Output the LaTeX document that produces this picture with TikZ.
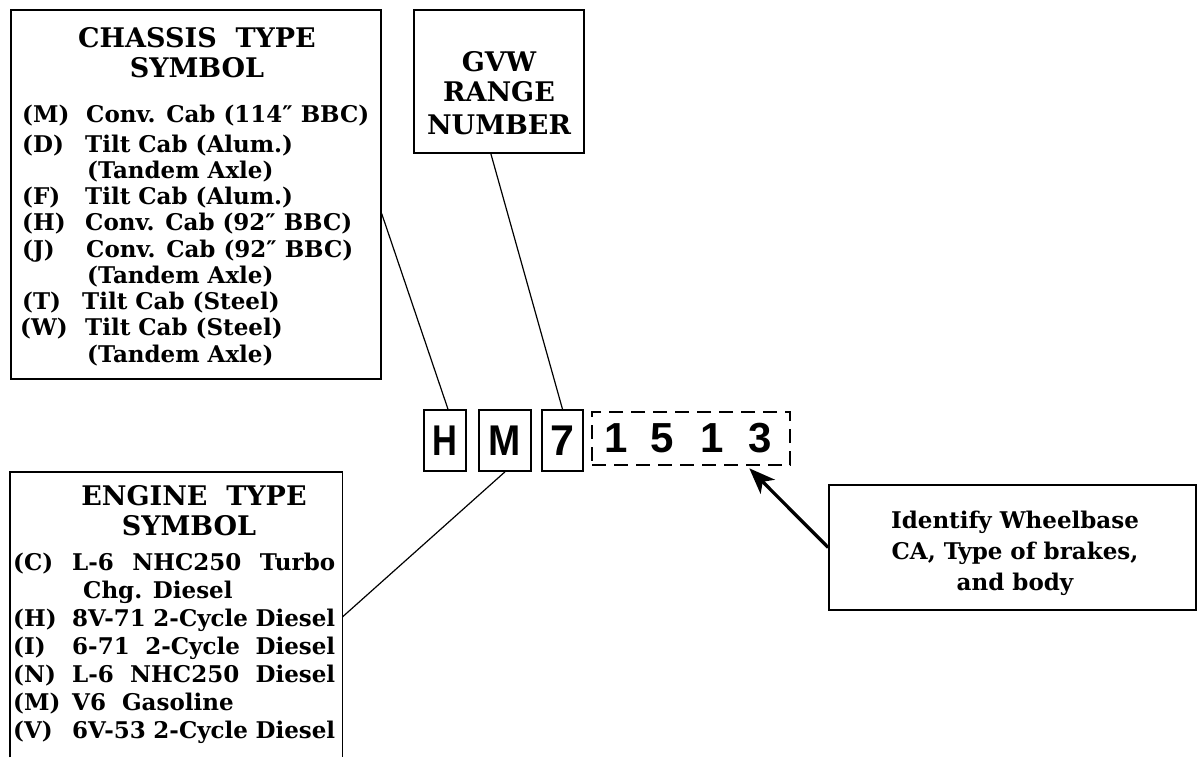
\documentclass[tikz,border=0pt]{standalone}
\usepackage{fontspec}
\usepackage{graphicx}
\setmainfont{DejaVu Serif}
\newfontfamily\codefont{Liberation Sans}
\usetikzlibrary{arrows.meta,calc}
\begin{document}
\begin{tikzpicture}[x=1pt,y=-1pt,
  boxline/.style={line width=1.7pt},
  box/.style={draw, boxline, inner sep=0pt},
  ttl/.style={font=\fontsize{27}{30}\selectfont\bfseries, anchor=base, inner sep=0pt},
  lbl/.style={font=\fontsize{23}{26}\selectfont\bfseries, anchor=base west, inner sep=0pt},
  codebox/.style={draw, line width=1.6pt, inner sep=0pt, minimum height=61pt,
    font=\codefont\bfseries\fontsize{43}{43}\selectfont},
  digit/.style={inner sep=0pt, font=\codefont\bfseries\fontsize{42}{42}\selectfont},
  conn/.style={line width=1.2pt},
  pointer/.style={line width=3.3pt, -{Stealth[length=26pt,width=20pt,inset=7pt]}}
]
\useasboundingbox (0,0) rectangle (1198,757);

% ---------- chassis box ----------
\node[box, anchor=north west, minimum width=370pt, minimum height=369pt] (chassis) at (10,9) {};
\node[ttl] (ct1) at (197,48) {CHASSIS\ \ TYPE};
\node[ttl] (ct2) at (197,78) {SYMBOL};
\node[lbl] (cl1) at (22,123) {(M)};  \node[lbl] (cd1) at (86,123) {Conv. Cab (114″ BBC)};
\node[lbl] (cl2) at (22,152) {(D)};  \node[lbl] (cd2) at (85,152) {Tilt Cab (Alum.)};
                                     \node[lbl] (cd3) at (87,178) {(Tandem Axle)};
\node[lbl] (cl4) at (22,204) {(F)};  \node[lbl] (cd4) at (85,204) {Tilt Cab (Alum.)};
\node[lbl] (cl5) at (22,230) {(H)};  \node[lbl] (cd5) at (85,230) {Conv. Cab (92″ BBC)};
\node[lbl] (cl6) at (22,257) {(J)};  \node[lbl] (cd6) at (86,257) {Conv. Cab (92″ BBC)};
                                     \node[lbl] (cd7) at (87,283) {(Tandem Axle)};
\node[lbl] (cl8) at (22,309) {(T)};  \node[lbl] (cd8) at (82,309) {Tilt Cab (Steel)};
\node[lbl] (cl9) at (20,335) {(W)};  \node[lbl] (cd9) at (85,335) {Tilt Cab (Steel)};
                                     \node[lbl] (cd10) at (87,362) {(Tandem Axle)};

% ---------- GVW box ----------
\node[box, anchor=north west, minimum width=170pt, minimum height=143pt] (gvw) at (413,9) {};
\node[ttl] (g1) at (499,72) {GVW};
\node[ttl] (g2) at (499,102) {RANGE};
\node[ttl] (g3) at (499,135) {NUMBER};

% ---------- code boxes ----------
\node[codebox, minimum width=42pt] (H) at (445,440.5) {\scalebox{0.8}[1]{H}};
\node[codebox, minimum width=52pt] (M) at (505,440.5) {\scalebox{0.9}[1]{M}};
\node[codebox, minimum width=41pt] (seven) at (562.5,440.5) {7};
\node[draw, line width=2.6pt, dash pattern=on 14pt off 8pt, inner sep=0pt,
      minimum width=198pt, minimum height=53pt] (dash) at (691,438.5) {};
\node[digit] (d1) at (616,438) {1};
\node[digit] (d2) at (662,438) {5};
\node[digit] (d3) at (712,438) {1};
\node[digit] (d4) at (760,438) {3};

% ---------- engine box (open at bottom) ----------
\node[anchor=north west, minimum width=332pt, minimum height=285pt, inner sep=0pt] (engine) at (10,472) {};
\draw[boxline] (engine.south west) -- (engine.north west) -- (engine.north east) -- (engine.south east);
\node[ttl] (et1) at (194,505) {ENGINE\ \ TYPE};
\node[ttl] (et2) at (189,535) {SYMBOL};
\node[lbl] (el1) at (13,570) {(C)}; \node[lbl] (ed1) at (72,570) {\makebox[263pt][s]{L-6 NHC250 Turbo}};
                                    \node[lbl] (ed2) at (83,598) {Chg. Diesel};
\node[lbl] (el3) at (13,626) {(H)}; \node[lbl] (ed3) at (72,626) {\makebox[263pt][s]{8V-71 2-Cycle Diesel}};
\node[lbl] (el4) at (13,654) {(I)}; \node[lbl] (ed4) at (72,654) {\makebox[263pt][s]{6-71 2-Cycle Diesel}};
\node[lbl] (el5) at (13,682) {(N)}; \node[lbl] (ed5) at (72,682) {\makebox[263pt][s]{L-6 NHC250 Diesel}};
\node[lbl] (el6) at (13,710) {(M)}; \node[lbl] (ed6) at (72,710) {V6\ \ Gasoline};
\node[lbl] (el7) at (13,738) {(V)}; \node[lbl] (ed7) at (72,738) {\makebox[263pt][s]{6V-53 2-Cycle Diesel}};

% ---------- note box ----------
\node[box, minimum width=367pt, minimum height=125pt] (note) at (1012.5,547.5) {};
\node[align=center, inner sep=0pt, font=\fontsize{23}{31}\selectfont\bfseries] (notetxt)
      at (1015,553) {Identify Wheelbase\\CA, Type of brakes,\\and body};

% ---------- connectors ----------
\coordinate (chatt) at ($(chassis.north east)!0.552!(chassis.south east)$);
\coordinate (engatt) at ($(engine.north east)!0.508!(engine.south east)$);
\coordinate (gvwatt) at ($(gvw.south)+(-8,0)$);
\coordinate (tip) at ($(dash.south east)+(-42,2)$);
\draw[conn] (chatt) -- ($(H.north)+(3,0)$);
\draw[conn] (gvwatt) -- (seven.north);
\draw[conn] (M.south) -- (engatt);
\draw[pointer] (note.west) -- (tip);
\end{tikzpicture}
\end{document}
